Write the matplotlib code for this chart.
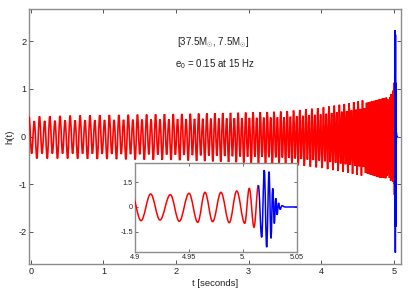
import numpy as np
import matplotlib.pyplot as plt
from matplotlib.path import Path
from matplotlib.patches import PathPatch

plt.rcParams['font.family'] = ['Liberation Sans', 'DejaVu Sans']
plt.rcParams['axes.unicode_minus'] = False
plt.rcParams['mathtext.fontset'] = 'custom'
plt.rcParams['mathtext.rm'] = 'Liberation Sans'
plt.rcParams['mathtext.it'] = 'Liberation Sans:italic'

# early inspiral: envelope and GW frequency
env_t = [0.0, 0.5, 1.0, 2.0, 3.0, 3.5, 4.0, 4.35, 4.6, 4.8, 4.9]
env_up = [0.38, 0.40, 0.41, 0.43, 0.46, 0.48, 0.55, 0.63, 0.70, 0.78, 0.82]
env_lo = [0.42, 0.42, 0.43, 0.45, 0.50, 0.52, 0.60, 0.69, 0.76, 0.86, 0.88]
freq_t = [0.0, 1.0, 2.0, 3.0, 4.0, 4.5, 4.7, 4.8, 4.9, 4.95]
freq_hz = [13.8, 15.0, 16.7, 19.5, 25.2, 32.4, 39.0, 45.0, 56.0, 60.0]
# eccentricity: alternate peaks come out taller / shorter
ecc_mod = [1.1, 0.85]

# late inspiral extrema (red)
insp_t = [4.9056, 4.9145, 4.9231, 4.9327, 4.9410, 4.9500, 4.9581, 4.9648,
          4.9719, 4.9796, 4.9873, 4.9942, 5.0016, 5.0058, 5.0102, 5.0142]
insp_h = [-0.83, 0.79, -0.79, 0.75, -0.87, 0.83, -0.93, 0.89,
          -0.89, 0.89, -0.95, 0.97, -0.99, 1.13, -1.23, 1.32]

# merger / ringdown extrema (blue)
ring_t = [5.0142, 5.0173, 5.0197, 5.0219, 5.0241, 5.0259, 5.0275, 5.0290,
          5.0303, 5.0315, 5.0329, 5.0343, 5.0361, 5.0389, 5.0600]
ring_h = [1.32, -1.84, 2.24, -2.44, 2.14, -1.90, 1.13, -1.00,
          0.53, -0.48, 0.25, -0.15, 0.08, 0.0, 0.0]

x_ticks = [0, 1, 2, 3, 4, 5]
y_ticks = [-2, -1, 0, 1, 2]
inset_xticks = [4.9, 4.95, 5.0, 5.05]
inset_xlabels = ['4.9', '4.95', '5.', '5.05']
inset_yticks = [-1.5, 0, 1.5]
inset_ylabels = ['-1.5', '0', '1.5']


def early_extrema():
    # step back half a cycle at a time from the first inset trough
    ts, hs = [], []
    t = insp_t[0]
    sign = 1
    n = 0
    while t > -0.05:
        t = t - 0.5 / np.interp(t, freq_t, freq_hz)
        amp = np.interp(t, env_t, env_up) if sign > 0 else np.interp(t, env_t, env_lo)
        if t < 4.6:
            amp *= ecc_mod[(n // 2) % 2]
        ts.append(t)
        hs.append(sign * amp)
        sign = -sign
        n += 1
    return ts[::-1], hs[::-1]


def wave_path(ts, hs, k=0.363):
    # smooth half-cycles between extrema, horizontal tangent at each one
    verts = [(ts[0], hs[0])]
    codes = [Path.MOVETO]
    for i in range(1, len(ts)):
        dt = ts[i] - ts[i - 1]
        verts += [(ts[i - 1] + k * dt, hs[i - 1]), (ts[i] - k * dt, hs[i]), (ts[i], hs[i])]
        codes += [Path.CURVE4] * 3
    return Path(verts, codes)


e_t, e_h = early_extrema()
red_t = e_t + insp_t
red_h = e_h + insp_h

fig = plt.figure(figsize=(4.15, 2.91), dpi=100)
ax = fig.add_axes([0.0699, 0.0928, 0.8964, 0.876])
ins = fig.add_axes([0.3253, 0.134, 0.3904, 0.306])

spine_col = '#8c8c8c'
for a, lw in [(ax, 1.2), (ins, 1.1)]:
    a.add_patch(PathPatch(wave_path(red_t, red_h), fill=False, ec='#ff0000', lw=lw, zorder=3))
    a.add_patch(PathPatch(wave_path(ring_t, ring_h), fill=False, ec='#0000ff', lw=1.1, zorder=4))
    for s in a.spines.values():
        s.set_color(spine_col)
        s.set_linewidth(1.0)

ax.set_xlim(-0.025, 5.1)
ax.set_ylim(-2.68, 2.68)
ax.set_xticks(x_ticks)
ax.set_yticks(y_ticks)
ax.tick_params(direction='in', top=True, right=True, length=3, width=0.7,
               color='#555555', labelsize=6.6, labelcolor='#222222', pad=2)
ax.set_xlabel('t [seconds]', fontsize=6.8, color='#222222', labelpad=2.5)
ax.set_ylabel('h(t)', fontsize=6.8, color='#222222', labelpad=3)

ax.text(0.495, 0.867, r'[37.5$\mathrm{M}_{\odot}$, 7.5$\mathrm{M}_{\odot}$]', transform=ax.transAxes,
        ha='center', va='center', fontsize=7, color='#222222')
ax.text(0.50, 0.784, r'e$_0$ = 0.15 at 15 Hz', transform=ax.transAxes,
        ha='center', va='center', fontsize=7, color='#222222')

ins.set_xlim(4.9, 5.05)
ins.set_ylim(-2.73, 2.67)
ins.set_xticks(inset_xticks)
ins.set_xticklabels(inset_xlabels)
ins.set_yticks(inset_yticks)
ins.set_yticklabels(inset_ylabels)
ins.tick_params(direction='in', top=True, right=True, length=2.2, width=0.6,
                color='#555555', labelsize=5.2, labelcolor='#222222', pad=1.5)

fig.savefig('out.png', dpi=100)
